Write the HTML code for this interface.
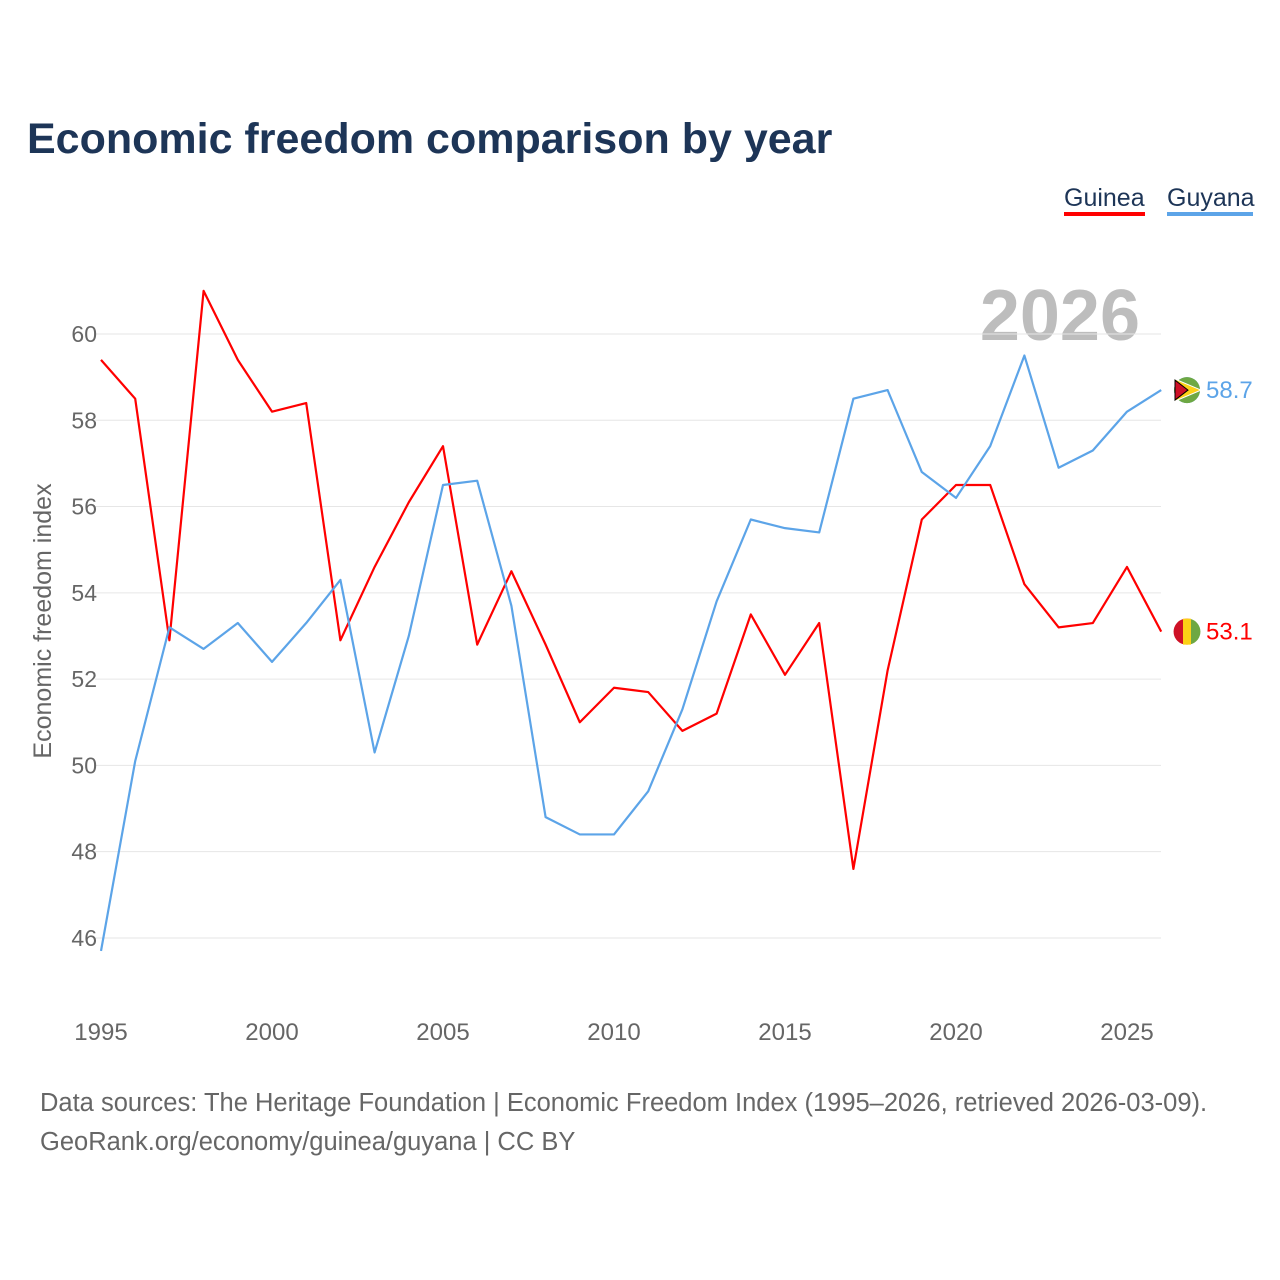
<!DOCTYPE html>
<html><head><meta charset="utf-8"><style>
body{margin:0;background:#fff;}
svg{display:block;font-family:"Liberation Sans",sans-serif;}
</style></head><body>
<svg id="chart" width="1280" height="1280" viewBox="0 0 1280 1280">
<text x="27" y="153" font-size="43" font-weight="bold" fill="#1d3557">Economic freedom comparison by year</text>
<g>
<text x="1064" y="206" font-size="25" fill="#1d3557">Guinea</text>
<rect x="1064" y="212" width="81" height="4" fill="#ff0000"/>
<text x="1167" y="206" font-size="25" fill="#1d3557">Guyana</text>
<rect x="1167" y="212" width="86" height="4" fill="#5ca4e8"/>
</g>
<text x="1140" y="340" font-size="72" font-weight="bold" fill="#bdbdbd" text-anchor="end">2026</text>
<text transform="translate(51,621) rotate(-90)" font-size="25" fill="#666" text-anchor="middle">Economic freedom index</text>
<g id="grid"></g><g id="lines"></g><g id="labels"></g>
<text x="40" y="1111" font-size="25.5" fill="#666">Data sources: The Heritage Foundation | Economic Freedom Index (1995–2026, retrieved 2026-03-09).</text>
<text x="40" y="1150" font-size="25.5" fill="#666">GeoRank.org/economy/guinea/guyana | CC BY</text>
</svg>
<script>
const years=[1995,1996,1997,1998,1999,2000,2001,2002,2003,2004,2005,2006,2007,2008,2009,2010,2011,2012,2013,2014,2015,2016,2017,2018,2019,2020,2021,2022,2023,2024,2025,2026];
const guinea=[59.4,58.5,52.9,61.0,59.4,58.2,58.4,52.9,54.6,56.1,57.4,52.8,54.5,52.8,51.0,51.8,51.7,50.8,51.2,53.5,52.1,53.3,47.6,52.2,55.7,56.5,56.5,54.2,53.2,53.3,54.6,53.1];
const guyana=[45.7,50.1,53.2,52.7,53.3,52.4,53.3,54.3,50.3,53.0,56.5,56.6,53.7,48.8,48.4,48.4,49.4,51.3,53.8,55.7,55.5,55.4,58.5,58.7,56.8,56.2,57.4,59.5,56.9,57.3,58.2,58.7];
const yTicks=[46,48,50,52,54,56,58,60];
const xTicks=[1995,2000,2005,2010,2015,2020,2025];
const NS="http://www.w3.org/2000/svg";
const X=y=>101+(y-1995)*34.2;
const Y=v=>334+(60-v)*43.14;
function mk(tag,attrs,parent,text){const e=document.createElementNS(NS,tag);for(const k in attrs)e.setAttribute(k,attrs[k]);if(text!==undefined)e.textContent=text;parent.appendChild(e);return e;}
const grid=document.getElementById('grid'),lines=document.getElementById('lines'),labels=document.getElementById('labels');
yTicks.forEach(t=>{
 const l=mk('line',{x1:95,x2:1161,y1:Y(t),y2:Y(t),stroke:'#e6e6e6','stroke-width':1},grid);
 
 
 const tx=mk('text',{x:97,y:Y(t)+8,'font-size':23,fill:'#666','text-anchor':'end'},grid,t);
 
 
});
xTicks.forEach(t=>{
 const tx=mk('text',{x:X(t),y:1040,'font-size':24,fill:'#666','text-anchor':'middle'},grid,t);
 
 
});
function series(vals,color,name){
 const p=mk('polyline',{points:vals.map((v,i)=>X(years[i])+','+Y(v)).join(' '),fill:'none',stroke:color,'stroke-width':2.2,'stroke-linejoin':'round'},lines);
 
 
 const last=vals[vals.length-1],cy=Y(last);
 const c=mk('circle',{cx:1187,cy:cy,r:13,fill:color},labels);
 
 
 const lx=mk('text',{x:1206,y:cy+8,'font-size':24,fill:color},labels,last.toFixed(1));
 
 
 return cy;
}
const gy=series(guinea,'#ff0000','guinea');
const yy=series(guyana,'#5ca4e8','guyana');
mk('rect',{x:1183,y:gy-13,width:8,height:26,fill:'#fcd116'},labels);
mk('path',{d:`M1183,${gy-12.5} a13,13 0 0,0 0,25 Z`,fill:'#ce1126'},labels);
mk('path',{d:`M1191,${gy-12.5} a13,13 0 0,1 0,25 Z`,fill:'#6ea843'},labels);
mk('circle',{cx:1187,cy:yy,r:13,fill:'#6ea843'},labels);
mk('polygon',{points:`1175,${yy-11} 1201,${yy} 1175,${yy+11}`,fill:'#fcd116',stroke:'#fff','stroke-width':1},labels);
mk('polygon',{points:`1175,${yy-10} 1188,${yy} 1175,${yy+10}`,fill:'#ce1126',stroke:'#000','stroke-width':1},labels);
</script>
</body></html>
